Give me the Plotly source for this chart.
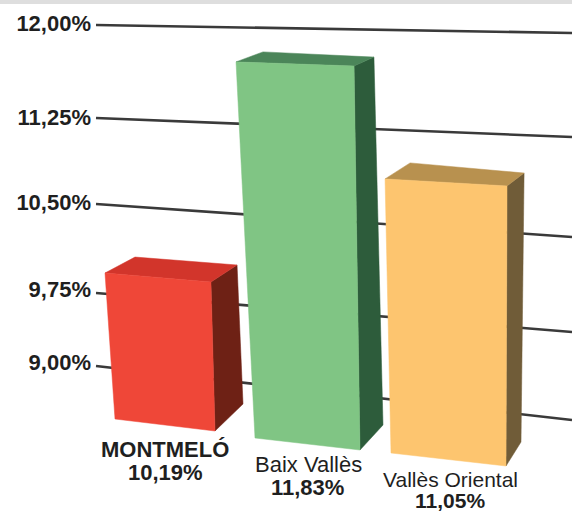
import plotly.graph_objects as go

# --- data ---
categories = ["MONTMELÓ", "Baix Vallès", "Vallès Oriental"]
values = [10.19, 11.83, 11.05]
tick_values = [12.00, 11.25, 10.50, 9.75, 9.00]
base_value = 9.00


def pct(v):
    return f"{v:.2f}".replace(".", ",") + "%"


# --- picture geometry (a fixed oblique view of the scene, in screen units) ---
W, H = 572, 514
grid_left_x, grid_right_x = 96, 572
grid_left_y = [25, 118, 204, 293, 366]
grid_right_y = [33, 137, 237, 332, 420]
tick_label_y = [23, 117, 202, 289, 362]

# per bar: floor position of each corner and its screen shift per unit of value
floors = [
    {"fl": (115, 419), "fr": (215, 431), "br": (243, 404), "bl": (143, 392)},
    {"fl": (255, 438), "fr": (360, 450), "br": (383, 425), "bl": (278, 413)},
    {"fl": (391, 453), "fr": (506, 466), "br": (521, 442), "bl": (406, 429)},
]
rises = [
    {"fl": (-8.4, -122.7), "fr": (-3.4, -125.2), "br": (-5.0, -116.8), "bl": (-6.7, -113.4)},
    {"fl": (-6.7, -132.9), "fr": (-2.1, -135.7), "br": (-3.2, -130.0), "bl": (-5.3, -127.6)},
    {"fl": (-2.9, -133.7), "fr": (0.5, -136.6), "br": (1.5, -131.2), "bl": (2.0, -129.8)},
]
face_colors = ["#EF4738", "#80C584", "#FDC56F"]
top_colors = ["#D2352B", "#4B8559", "#B8914F"]
side_colors = ["#6E2115", "#2D5C3B", "#705C38"]
name_pos = [(165, 449), (308, 464), (450, 479)]
value_pos = [(165, 472), (307, 487), (450, 500)]
label_sizes = [22, 22, 21]
TEXT = "#1f1f1f"
FONT = "Liberation Sans, Arial, sans-serif"
TICK_SIZE = 22

fig = go.Figure()

for v, ly, ry in zip(tick_values, grid_left_y, grid_right_y):
    fig.add_trace(go.Scatter(
        x=[grid_left_x, grid_right_x], y=[ly, ry], mode="lines",
        line=dict(color="#3a3a3a", width=2.6), hoverinfo="skip", showlegend=False,
        name=pct(v),
    ))


def polygon(points, color, name):
    xs = [p[0] for p in points] + [points[0][0]]
    ys = [p[1] for p in points] + [points[0][1]]
    fig.add_trace(go.Scatter(
        x=xs, y=ys, mode="lines", fill="toself", fillcolor=color,
        line=dict(color=color, width=0.5), hoverinfo="skip", showlegend=False, name=name,
    ))


for i, (cat, val) in enumerate(zip(categories, values)):
    h = val - base_value
    floor, rise = floors[i], rises[i]
    top = {k: (floor[k][0] + h * rise[k][0], floor[k][1] + h * rise[k][1]) for k in floor}
    polygon([top["fr"], top["br"], floor["br"], floor["fr"]], side_colors[i], cat)
    polygon([top["fl"], top["bl"], top["br"], top["fr"]], top_colors[i], cat)
    polygon([top["fl"], top["fr"], floor["fr"], floor["fl"]], face_colors[i], cat)

annotations = []
for i, (cat, val) in enumerate(zip(categories, values)):
    label = f"<b>{cat}</b>" if i == 0 else cat
    annotations.append(dict(
        x=name_pos[i][0], y=name_pos[i][1], xref="x", yref="y", text=label,
        showarrow=False, font=dict(family=FONT, size=label_sizes[i], color=TEXT),
    ))
    annotations.append(dict(
        x=value_pos[i][0], y=value_pos[i][1], xref="x", yref="y", text=f"<b>{pct(val)}</b>",
        showarrow=False, font=dict(family=FONT, size=label_sizes[i], color=TEXT),
    ))

fig.update_layout(
    width=W, height=H, autosize=False,
    margin=dict(l=92, r=0, t=0, b=0),
    paper_bgcolor="white", plot_bgcolor="white",
    xaxis=dict(range=[92, W], visible=False, fixedrange=True),
    yaxis=dict(
        range=[H, 0], fixedrange=True, showgrid=False, zeroline=False, showline=False,
        tickmode="array", tickvals=tick_label_y,
        ticktext=[f"<b>{pct(v)}</b>" for v in tick_values],
        ticks="", tickfont=dict(family=FONT, size=TICK_SIZE, color=TEXT),
    ),
    shapes=[dict(type="rect", xref="paper", yref="paper", x0=-1, x1=1, y0=1 - 4 / H, y1=1,
                 fillcolor="#DEDEDE", line_width=0, layer="above")],
    annotations=annotations,
    showlegend=False,
)

fig.write_html(
    "out.html",
    config={"displayModeBar": False},
    post_script="document.body.style.margin='0';document.documentElement.style.overflow='hidden';",
)
